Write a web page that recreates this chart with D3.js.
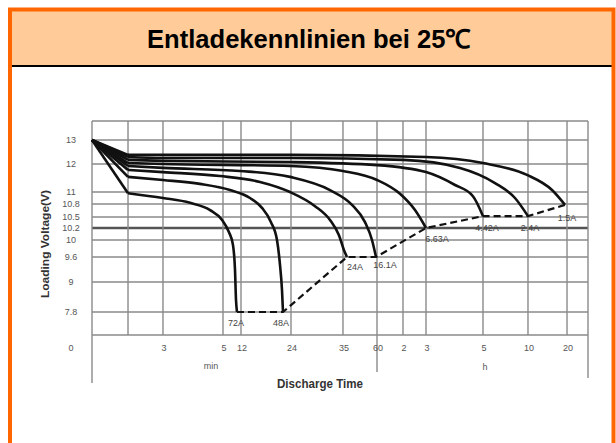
<!DOCTYPE html>
<html><head><meta charset="utf-8">
<script src="https://cdn.jsdelivr.net/npm/d3@7"></script>
<style>body{margin:0;background:#fff}svg{display:block}</style>
</head><body><svg id="c" width="616" height="443"></svg>
<script>
// ---------- data ----------
const titleText = "Entladekennlinien bei 25\u2103";
const xBreakMinutes = [0, 1, 3, 5, 12, 24, 35, 60, 120, 180, 300, 600, 1200, 1500];
const xTickValues = [3, 5, 12, 24, 35, 60, 120, 180, 300, 600, 1200];
const xTickLabels = ["3", "5", "12", "24", "35", "60", "2", "3", "5", "10", "20"];
const yBreakVolts = [13.5, 13, 12, 11, 10.8, 10.5, 10.2, 10, 9.6, 9, 7.8, 7.2];
const yTickValues = [13, 12, 11, 10.8, 10.5, 10.2, 10, 9.6, 9, 7.8];
const yTickLabels = ["13", "12", "11", "10.8", "10.5", "10.2", "10", "9.6", "9", "7.8"];
const currents = ["72A", "48A", "24A", "16.1A", "6.63A", "4.42A", "2.4A", "1.5A"];
// [minutes, volts]
const curve72A = [[0,13],[1,10.98],[3,10.9],[3.9,10.82],[4.57,10.66],[4.97,10.42],[7.33,10.13],[8.89,9.88],[9.67,9.29],[10.06,8.28],[10.44,7.8]];
const curve48A = [[0,13],[1,11.54],[3,11.43],[4.23,11.29],[7.72,11.07],[14.16,10.9],[17.04,10.71],[19.2,10.36],[20.64,10],[21.36,9.41],[21.84,8.68],[22.08,7.8]];
const curve24A = [[0,13],[1,11.79],[3,11.71],[4.9,11.57],[16.56,11.36],[23.76,11],[29.08,10.75],[32.25,10.42],[34.15,10.08],[35.74,9.76],[37.94,9.6]];
const curve16A = [[0,13],[1,11.93],[3,11.86],[11.61,11.75],[23.76,11.54],[32.25,11.07],[41.62,10.78],[51.18,10.36],[56.32,10],[59.26,9.6]];
const curve663A = [[0,13],[1,12.04],[3,12],[24,11.93],[35,11.75],[60,11.43],[113.1,10.97],[151.3,10.66],[180,10.2]];
const curve442A = [[0,13],[1,12.17],[3,12.13],[24,12.08],[60,11.96],[180,11.71],[241.1,11.25],[278.9,10.93],[300,10.52]];
const curve24A_ = [[0,13],[1,12.29],[3,12.25],[24,12.25],[120,12.17],[251.6,11.86],[380,11.32],[513.3,10.9],[600,10.52]];
const curve15A = [[0,13],[1,12.38],[3,12.38],[24,12.38],[180,12.29],[300,12.04],[593.3,11.61],[969.2,11.07],[1169.2,10.78]];
const curveSeries = [curve72A, curve48A, curve24A, curve16A, curve663A, curve442A, curve24A_, curve15A];

// ---------- layout ----------
const W = 616, H = 443;
const P = {l: 92, r: 588, t: 121, b: 335};
const xFrac = [0, .0726, .1431, .2641, .3004, .4012, .5060, .5746, .6270, .6734, .7883, .8790, .9577, 1];
const yFrac = [0, .0888, .2009, .3318, .3879, .4486, .5, .5561, .6355, .7523, .8925, 1];
const labelOffset = [[-1, 11], [-2, 11], [8, 10], [9, 8], [11, 10.5], [4, 12], [2, 11.5], [2, 13]];
const FONT = "'Liberation Sans', Arial, Helvetica, sans-serif";

const x = d3.scaleLinear().domain(xBreakMinutes).range(xFrac.map(f => P.l + f * (P.r - P.l)));
const y = d3.scaleLinear().domain(yBreakVolts).range(yFrac.map(f => P.t + f * (P.b - P.t)));

const svg = d3.select("#c");
svg.append("rect").attr("width", W).attr("height", H).attr("fill", "#fff");

// frame + title band
svg.append("rect").attr("x", 12).attr("y", 11).attr("width", 601).attr("height", 54).attr("fill", "#FFCC99");
svg.append("line").attr("x1", 12).attr("x2", 613).attr("y1", 66).attr("y2", 66).attr("stroke", "#000").attr("stroke-width", 2);
svg.append("path").attr("d", `M10,${H} V9.5 H613.5 V${H}`).attr("fill", "none").attr("stroke", "#FF6600").attr("stroke-width", 4);
svg.append("text").attr("x", 309).attr("y", 48).attr("text-anchor", "middle")
  .attr("font-family", FONT).attr("font-weight", "bold").attr("font-size", 26)
  .attr("textLength", 324).attr("lengthAdjust", "spacingAndGlyphs").attr("fill", "#000").text(titleText);

// grid
const g = svg.append("g");
const gridColor = "#8a8a8a";
yTickValues.forEach(v => {
  g.append("line").attr("x1", P.l).attr("x2", P.r).attr("y1", y(v)).attr("y2", y(v))
    .attr("stroke", v === 10.2 ? "#555" : gridColor).attr("stroke-width", v === 10.2 ? 2.6 : 1.4);
});
[13.5, 7.2].forEach(v => g.append("line").attr("x1", P.l).attr("x2", P.r).attr("y1", y(v)).attr("y2", y(v)).attr("stroke", gridColor).attr("stroke-width", 1.4));
xBreakMinutes.forEach(v => {
  let y2 = P.b;
  if (v === 0) y2 = 383; else if (v === 60) y2 = 372; else if (v === 1500) y2 = 378;
  g.append("line").attr("x1", x(v)).attr("x2", x(v)).attr("y1", P.t).attr("y2", y2)
    .attr("stroke", gridColor).attr("stroke-width", 1.4);
});

// tick labels
const tl = svg.append("g").attr("font-family", FONT).attr("font-size", 9).attr("fill", "#555");
yTickValues.forEach((v, i) => {
  tl.append("text").attr("x", 71).attr("y", y(v) + 3).attr("text-anchor", "middle").text(yTickLabels[i]);
});
tl.append("text").attr("x", 71).attr("y", 351).attr("text-anchor", "middle").text("0");
xTickValues.forEach((v, i) => {
  tl.append("text").attr("x", x(v) + 1).attr("y", 351).attr("text-anchor", "middle").text(xTickLabels[i]);
});
tl.append("text").attr("x", 211).attr("y", 369).attr("text-anchor", "middle").text("min");
tl.append("text").attr("x", 485).attr("y", 370).attr("text-anchor", "middle").text("h");

// axis titles
svg.append("text").attr("x", 320).attr("y", 388).attr("text-anchor", "middle")
  .attr("font-family", FONT).attr("font-weight", "bold").attr("font-size", 13.5).attr("fill", "#333")
  .attr("textLength", 86).attr("lengthAdjust", "spacingAndGlyphs").text("Discharge Time");
svg.append("text").attr("transform", "translate(49,244) rotate(-90)").attr("text-anchor", "middle")
  .attr("font-family", FONT).attr("font-weight", "bold").attr("font-size", 11.5).attr("fill", "#333")
  .attr("textLength", 108).attr("lengthAdjust", "spacingAndGlyphs").text("Loading Voltage(V)");

// curves
const lineLin = d3.line().x(d => x(d[0])).y(d => y(d[1]));
const lineSmooth = d3.line().x(d => x(d[0])).y(d => y(d[1])).curve(d3.curveMonotoneX);
const cg = svg.append("g").attr("fill", "none").attr("stroke", "#111").attr("stroke-width", 2.6).attr("stroke-linejoin", "round");
curveSeries.forEach(s => {
  cg.append("path").attr("d", lineLin(s.slice(0, 2)));
  cg.append("path").attr("d", lineSmooth(s.slice(1)));
});

// end-of-discharge envelope
const ends = curveSeries.map(s => s[s.length - 1]);
svg.append("path").attr("d", lineLin(ends)).attr("fill", "none").attr("stroke", "#111")
  .attr("stroke-width", 2.2).attr("stroke-dasharray", "7,4");

// current labels
const lg = svg.append("g").attr("font-family", FONT).attr("font-size", 9).attr("fill", "#444").attr("text-anchor", "middle");
ends.forEach((e, i) => {
  lg.append("text").attr("x", x(e[0]) + labelOffset[i][0]).attr("y", y(e[1]) + labelOffset[i][1] + 3).text(currents[i]);
});
</script></body></html>
